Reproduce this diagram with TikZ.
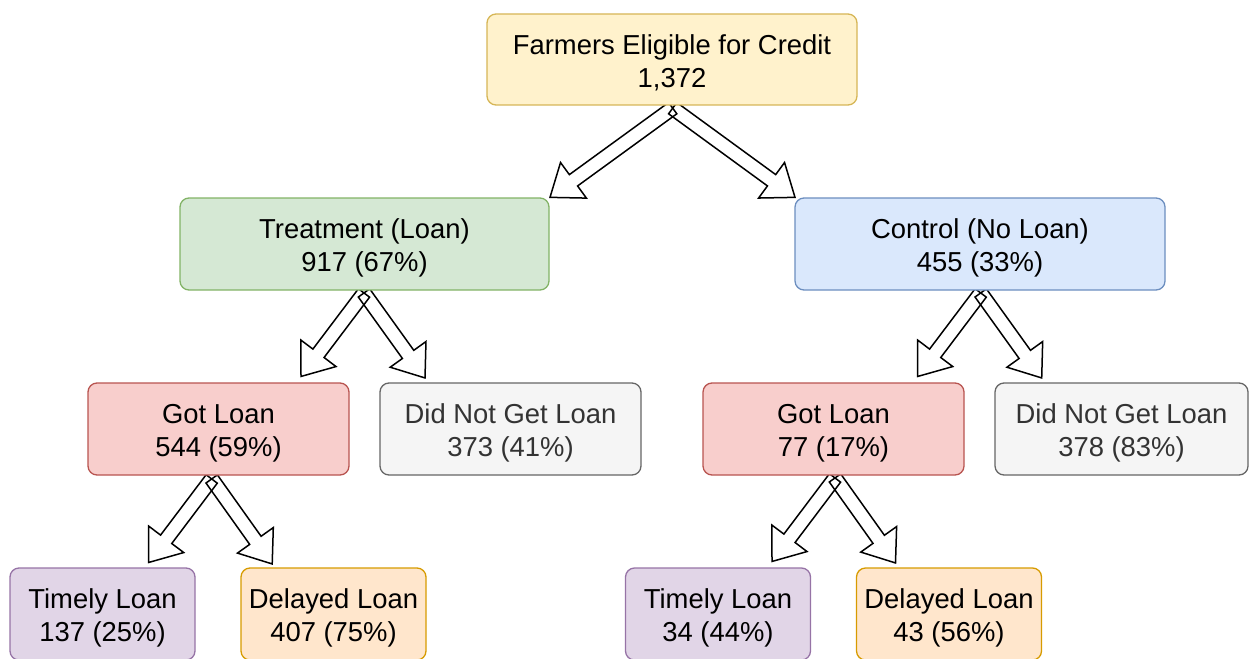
\documentclass[tikz,border=0pt]{standalone}
\usepackage{fontspec}
\setmainfont{Liberation Sans}
\usetikzlibrary{calc,backgrounds}
\definecolor{ylwfill}{HTML}{FFF2CC}\definecolor{ylwline}{HTML}{D6B656}
\definecolor{grnfill}{HTML}{D5E8D4}\definecolor{grnline}{HTML}{82B366}
\definecolor{blufill}{HTML}{DAE8FC}\definecolor{bluline}{HTML}{6C8EBF}
\definecolor{redfill}{HTML}{F8CECC}\definecolor{redline}{HTML}{B85450}
\definecolor{gryfill}{HTML}{F5F5F5}\definecolor{gryline}{HTML}{666666}\definecolor{grytext}{HTML}{333333}
\definecolor{purfill}{HTML}{E1D5E7}\definecolor{purline}{HTML}{9673A6}
\definecolor{orgfill}{HTML}{FFE6CC}\definecolor{orgline}{HTML}{D79B00}
% strut that pushes the two text lines a little lower in the box
\newcommand{\lift}{\rule{0pt}{27pt}}
% hollow block arrow from #1 to tip #2
\newcommand{\flexarrow}[2]{%
  \coordinate (hb) at ($(#2)!29pt!(#1)$);
  \draw[blockarrow] ($(#1)!7pt!90:(#2)$) -- ($(hb)!7pt!90:(#2)$) -- ($(hb)!22pt!90:(#2)$) -- (#2)
    -- ($(hb)!22pt!-90:(#2)$) -- ($(hb)!7pt!-90:(#2)$) -- ($(#1)!7pt!-90:(#2)$) -- cycle;
}
\begin{document}
\begin{tikzpicture}[x=1pt,y=-1pt,
  box/.style={rounded corners=9pt,line width=1.3pt,align=center,inner sep=0pt,minimum height=92pt,
    font=\fontsize{27.4}{33}\selectfont},
  blockarrow/.style={line width=1.5pt,line join=miter}]
\useasboundingbox (0,0) rectangle (1249,658);
\clip (0,0) rectangle (1249,658);
\node[box,fill=ylwfill,draw=ylwline,minimum width=370pt,minimum height=91pt] (farmers) at (672,59.5) {\lift Farmers Eligible for Credit\\1,372};
\node[box,fill=grnfill,draw=grnline,minimum width=369pt] (treat) at (364.5,244) {\lift Treatment (Loan)\\917 (67\%)};
\node[box,fill=blufill,draw=bluline,minimum width=370pt] (control) at (980,244) {\lift Control (No Loan)\\455 (33\%)};
\node[box,fill=redfill,draw=redline,minimum width=261pt] (gotT) at (218.5,429) {\lift Got Loan\\544 (59\%)};
\node[box,fill=gryfill,draw=gryline,text=grytext,minimum width=261pt] (notT) at (510.5,429) {\lift Did Not Get Loan\\373 (41\%)};
\node[box,fill=redfill,draw=redline,minimum width=261pt] (gotC) at (833.5,429) {\lift Got Loan\\77 (17\%)};
\node[box,fill=gryfill,draw=gryline,text=grytext,minimum width=253pt] (notC) at (1121.5,429) {\lift Did Not Get Loan\\378 (83\%)};
\node[box,fill=purfill,draw=purline,minimum width=185pt] (timelyT) at (102.5,614) {\lift Timely Loan\\137 (25\%)};
\node[box,fill=orgfill,draw=orgline,minimum width=185pt] (delayT) at (333.5,614) {\lift Delayed Loan\\407 (75\%)};
\node[box,fill=purfill,draw=purline,minimum width=185pt] (timelyC) at (718,614) {\lift Timely Loan\\34 (44\%)};
\node[box,fill=orgfill,draw=orgline,minimum width=185pt] (delayC) at (949,614) {\lift Delayed Loan\\43 (56\%)};
\begin{pgfonlayer}{background}
\coordinate (sF) at ($(farmers.south)+(0.7,2.5)$);
\coordinate (sT) at ($(treat.south)+(-0.5,2.3)$);
\coordinate (sC) at ($(control.south)+(0.7,2.3)$);
\coordinate (sGT) at ($(gotT.south)+(-6.8,3.3)$);
\coordinate (sGC) at ($(gotC.south)+(1.5,2.3)$);
\coordinate (toTreat) at ($(sF)+(-122.7,89.2)$);
\coordinate (toControl) at ($(sF)+(122.3,89.2)$);
\coordinate (toGotT) at ($(sT)+(-63,83.5)$);
\coordinate (toNotT) at ($(sT)+(61,85)$);
\coordinate (toGotC) at ($(sC)+(-63,83.5)$);
\coordinate (toNotC) at ($(sC)+(61,85)$);
\coordinate (toTimelyT) at ($(sGT)+(-63,83.5)$);
\coordinate (toDelayT) at ($(sGT)+(60.5,85)$);
\coordinate (toTimelyC) at ($(sGC)+(-63,83.5)$);
\coordinate (toDelayC) at ($(sGC)+(60.5,85)$);
\flexarrow{sF}{toTreat}
\flexarrow{sF}{toControl}
\flexarrow{sT}{toGotT}
\flexarrow{sT}{toNotT}
\flexarrow{sC}{toGotC}
\flexarrow{sC}{toNotC}
\flexarrow{sGT}{toTimelyT}
\flexarrow{sGT}{toDelayT}
\flexarrow{sGC}{toTimelyC}
\flexarrow{sGC}{toDelayC}
\end{pgfonlayer}
\end{tikzpicture}
\end{document}
